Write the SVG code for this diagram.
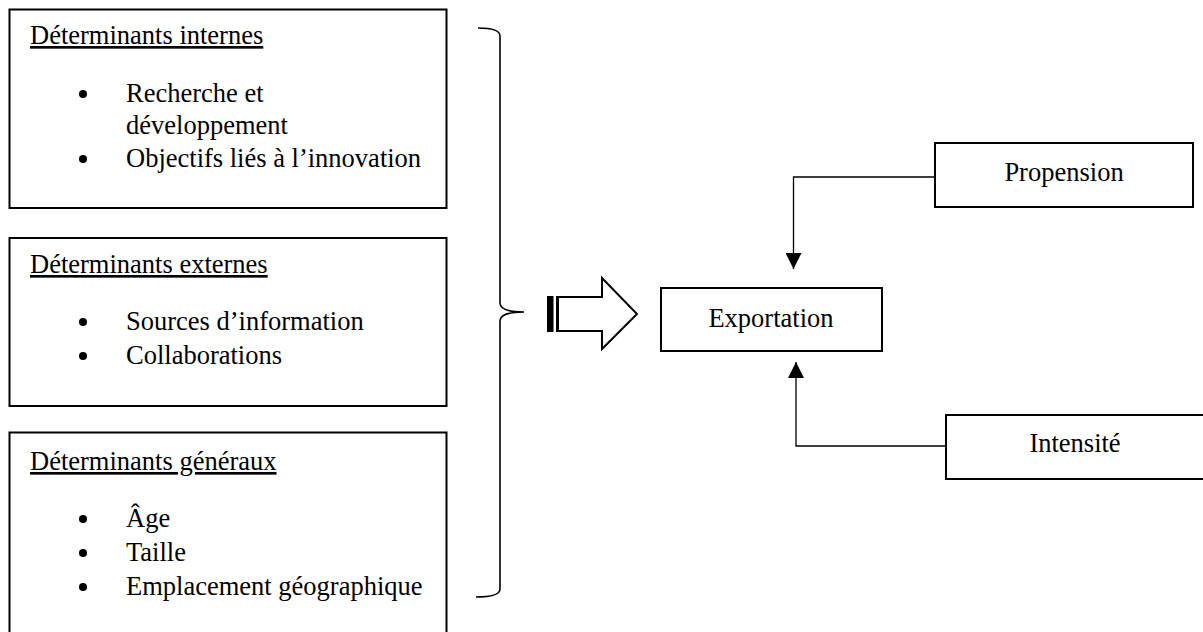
<svg xmlns="http://www.w3.org/2000/svg" width="1203" height="632" viewBox="0 0 1203 632">
  <style>
    .box { fill: #fff; stroke: #000; stroke-width: 2; }
    .t { font-family: "Liberation Serif", "Times New Roman", serif; font-size: 26.5px; fill: #000; }
    .h { text-decoration: underline; }
    .c { text-anchor: middle; }
    .wire { fill: none; stroke: #000; stroke-width: 1.3; }
    .brace { fill: none; stroke: #000; stroke-width: 1.6; }
  </style>
  <defs>
    <marker id="tri" viewBox="0 0 16 16" refX="16" refY="8" markerWidth="16" markerHeight="16" markerUnits="userSpaceOnUse" orient="auto">
      <path d="M0,0 L16,8 L0,16 Z" fill="#000"/>
    </marker>
  </defs>

  <!-- internal determinants -->
  <g id="internes">
    <rect class="box" x="9.5" y="9.5" width="437" height="198.5"/>
    <text class="t h" x="30" y="44">Déterminants internes</text>
    <circle cx="83" cy="94" r="4"/>
    <text class="t" x="126" y="102">Recherche et</text>
    <text class="t" x="126" y="134">développement</text>
    <circle cx="83" cy="159" r="4"/>
    <text class="t" x="126" y="167">Objectifs liés à l’innovation</text>
  </g>

  <!-- external determinants -->
  <g id="externes">
    <rect class="box" x="9.5" y="238" width="437" height="168"/>
    <text class="t h" x="30" y="273">Déterminants externes</text>
    <circle cx="83" cy="322" r="4"/>
    <text class="t" x="126" y="330">Sources d’information</text>
    <circle cx="83" cy="356" r="4"/>
    <text class="t" x="126" y="364">Collaborations</text>
  </g>

  <!-- general determinants -->
  <g id="generaux">
    <rect class="box" x="9.5" y="432.5" width="437" height="220"/>
    <text class="t h" x="30" y="470">Déterminants généraux</text>
    <circle cx="83" cy="519" r="4"/>
    <text class="t" x="126" y="527">Âge</text>
    <circle cx="83" cy="553" r="4"/>
    <text class="t" x="126" y="561">Taille</text>
    <circle cx="83" cy="587" r="4"/>
    <text class="t" x="126" y="595">Emplacement géographique</text>
  </g>

  <!-- grouping brace -->
  <g id="accolade">
    <path class="brace" d="M478,28 Q500,28 500,36 L500,303 Q500,312 524,312 Q500,312 500,321 L500,589 Q500,597 476,597"/>
  </g>

  <!-- striped block arrow -->
  <g id="fleche">
    <path d="M558,297 L602,297 L602,278 L637,314 L602,349 L602,331 L558,331 Z" fill="#fff" stroke="#000" stroke-width="2"/>
    <rect x="547" y="296" width="6.5" height="36" fill="#000"/>
    <rect x="556" y="296" width="2.5" height="36" fill="#000"/>
  </g>

  <g id="exportation">
    <rect class="box" x="661" y="288" width="221" height="63"/>
    <text class="t c" x="771" y="327">Exportation</text>
  </g>

  <g id="propension">
    <rect class="box" x="935" y="143" width="258" height="64"/>
    <text class="t c" x="1064" y="181">Propension</text>
  </g>

  <g id="intensite">
    <rect class="box" x="946" y="415" width="270" height="64"/>
    <text class="t c" x="1075" y="452">Intensité</text>
  </g>

  <!-- connectors -->
  <g id="connecteurs">
    <path class="wire" d="M935,177 L793.5,177 L793.5,269" marker-end="url(#tri)"/>
    <path class="wire" d="M946,446 L796,446 L796,362" marker-end="url(#tri)"/>
  </g>
</svg>
